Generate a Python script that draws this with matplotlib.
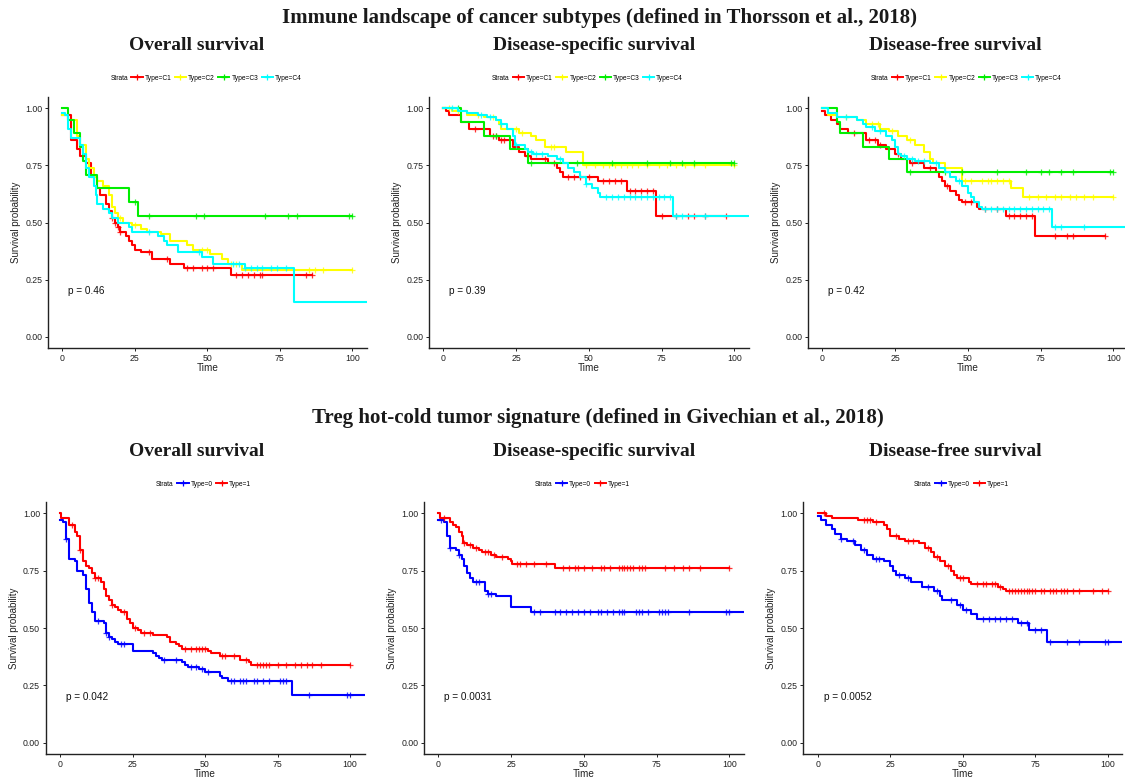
import numpy as np
import matplotlib
matplotlib.use("Agg")
import matplotlib.pyplot as plt
from matplotlib.lines import Line2D

plt.rcParams['font.family'] = ['Liberation Sans', 'DejaVu Sans']

# ---- data: step times, survival values, last follow-up time, censor times ----
# Immune landscape subtypes - overall survival
os_c1_t = [0, 3, 5, 6, 8, 10, 12, 13, 15, 16, 17, 18, 19, 20, 22, 23, 24, 25, 27, 31, 37, 42, 58]
os_c1_s = [0.97, 0.86, 0.82, 0.79, 0.76, 0.70, 0.65, 0.62, 0.58, 0.55, 0.52, 0.50, 0.48, 0.46, 0.44, 0.42, 0.40, 0.38, 0.37, 0.34, 0.32, 0.30, 0.27]
os_c1_end = 86
os_c1_cens = [17, 18, 19, 20, 30, 36, 43, 45, 48, 50, 52, 60, 62, 64, 66, 68, 69, 84, 86]

os_c2_t = [0, 2, 5, 6, 8, 9, 11, 12, 14, 16, 17, 18, 19, 21, 24, 27, 29, 34, 37, 43, 45, 51, 55, 57, 62]
os_c2_s = [0.97, 0.95, 0.88, 0.84, 0.78, 0.74, 0.70, 0.68, 0.66, 0.62, 0.57, 0.54, 0.52, 0.50, 0.49, 0.47, 0.46, 0.45, 0.42, 0.40, 0.38, 0.36, 0.34, 0.32, 0.29]
os_c2_end = 100
os_c2_cens = [20, 25, 48, 50, 58, 60, 85, 87, 90, 100]

os_c3_t = [0, 2, 4, 6, 7, 8, 12, 23, 26]
os_c3_s = [1.0, 0.95, 0.89, 0.83, 0.77, 0.71, 0.65, 0.59, 0.53]
os_c3_end = 100
os_c3_cens = [25, 30, 46, 49, 70, 78, 81, 99, 100]

os_c4_t = [0, 1, 2, 3, 6, 7, 8, 9, 11, 11.5, 12, 14, 16, 17, 19, 23, 24, 33, 35, 36, 40, 48, 52, 63, 80]
os_c4_s = [0.98, 0.97, 0.91, 0.87, 0.84, 0.80, 0.74, 0.70, 0.66, 0.62, 0.58, 0.56, 0.54, 0.52, 0.50, 0.48, 0.46, 0.44, 0.42, 0.40, 0.37, 0.35, 0.32, 0.30, 0.15]
os_c4_end = 110
os_c4_cens = [30, 47, 59, 61, 63, 65, 67, 69, 72, 74, 77]

# Immune landscape subtypes - disease-specific survival
dss_c1_t = [0, 1, 2, 6, 9, 16, 19, 24, 26, 28, 30, 36, 39, 40, 41, 53, 63, 73]
dss_c1_s = [1.0, 0.99, 0.97, 0.94, 0.91, 0.88, 0.86, 0.83, 0.81, 0.79, 0.78, 0.76, 0.74, 0.72, 0.70, 0.68, 0.64, 0.53]
dss_c1_end = 97
dss_c1_cens = [11, 17, 18, 20, 21, 29, 35, 38, 43, 45, 47, 50, 55, 57, 59, 61, 64, 66, 68, 70, 72, 75, 80, 84, 86, 90, 97]

dss_c2_t = [0, 3, 8, 14, 18, 19, 20, 26, 30, 32, 35, 42, 48]
dss_c2_s = [1.0, 0.99, 0.97, 0.96, 0.95, 0.93, 0.91, 0.89, 0.88, 0.86, 0.83, 0.81, 0.75]
dss_c2_end = 100
dss_c2_cens = [2, 5, 12, 17, 25, 27, 37, 38, 49, 52, 55, 57, 59, 61, 63, 65, 67, 70, 74, 77, 80, 83, 86, 90, 100]

dss_c3_t = [0, 6, 14, 23, 29]
dss_c3_s = [1.0, 0.94, 0.88, 0.82, 0.76]
dss_c3_end = 100
dss_c3_cens = [5, 18, 30, 46, 58, 70, 78, 82, 86, 99, 100]

dss_c4_t = [0, 5, 8, 12, 15, 18, 20, 22, 24, 24.5, 28, 29, 31, 36, 39, 41, 43, 45, 47, 49, 51, 53, 54, 79]
dss_c4_s = [1.0, 0.99, 0.98, 0.97, 0.96, 0.95, 0.93, 0.91, 0.88, 0.84, 0.82, 0.81, 0.80, 0.79, 0.78, 0.76, 0.74, 0.72, 0.70, 0.67, 0.65, 0.63, 0.61, 0.53]
dss_c4_end = 110
dss_c4_cens = [3, 13, 16, 20, 25, 30, 32, 34, 40, 49, 56, 58, 60, 62, 64, 66, 68, 70, 72, 74, 76, 78, 80, 82, 90]

# Immune landscape subtypes - disease-free survival
dfs_c1_t = [0, 1, 3, 5, 6, 9, 15, 19, 22, 25, 27, 30, 35, 39, 40, 41, 42, 44, 46, 47, 48, 53, 54, 63, 73]
dfs_c1_s = [0.99, 0.97, 0.95, 0.93, 0.91, 0.89, 0.86, 0.84, 0.82, 0.80, 0.78, 0.76, 0.74, 0.72, 0.70, 0.68, 0.66, 0.64, 0.62, 0.60, 0.59, 0.57, 0.56, 0.53, 0.44]
dfs_c1_end = 97
dfs_c1_cens = [11, 16, 18, 20, 26, 31, 37, 43, 49, 51, 56, 60, 64, 66, 68, 70, 72, 80, 84, 86, 97]

dfs_c2_t = [0, 2, 5, 12, 15, 20, 23, 26, 29, 32, 35, 37, 38, 42, 48, 65, 69]
dfs_c2_s = [1.0, 0.97, 0.96, 0.95, 0.93, 0.91, 0.90, 0.88, 0.86, 0.84, 0.81, 0.78, 0.76, 0.74, 0.68, 0.65, 0.61]
dfs_c2_end = 100
dfs_c2_cens = [8, 17, 19, 24, 30, 49, 51, 55, 57, 58, 60, 62, 64, 71, 74, 77, 80, 82, 85, 87, 90, 93, 100]

dfs_c3_t = [0, 5, 6, 14, 23, 29]
dfs_c3_s = [1.0, 0.94, 0.89, 0.83, 0.78, 0.72]
dfs_c3_end = 100
dfs_c3_cens = [30, 42, 48, 60, 70, 75, 78, 82, 86, 99, 100]

dfs_c4_t = [0, 2, 5, 12, 14, 15, 18, 22, 24, 25, 26, 27, 29, 32, 37, 40, 42, 44, 46, 48, 50, 51, 52, 54, 55, 79]
dfs_c4_s = [1.0, 0.98, 0.96, 0.95, 0.93, 0.92, 0.90, 0.88, 0.86, 0.83, 0.80, 0.79, 0.78, 0.77, 0.76, 0.74, 0.72, 0.70, 0.68, 0.66, 0.63, 0.61, 0.59, 0.57, 0.56, 0.48]
dfs_c4_end = 110
dfs_c4_cens = [8, 17, 20, 28, 31, 33, 35, 39, 47, 56, 58, 60, 62, 64, 66, 68, 70, 72, 74, 76, 78, 80, 82, 90]

# Treg hot-cold signature - overall survival
tos_0_t = [0, 1, 2, 3, 5, 6, 8, 9, 10, 11, 12, 15, 16, 17, 18, 19, 20, 25, 32, 33, 34, 35, 42, 43, 44, 48, 50, 55, 56, 58, 80]
tos_0_s = [0.97, 0.96, 0.89, 0.80, 0.79, 0.75, 0.73, 0.67, 0.61, 0.57, 0.53, 0.52, 0.48, 0.46, 0.45, 0.44, 0.43, 0.40, 0.39, 0.38, 0.37, 0.36, 0.35, 0.34, 0.33, 0.32, 0.31, 0.29, 0.28, 0.27, 0.21]
tos_0_end = 110
tos_0_cens = [2, 13, 16, 17, 21, 22, 36, 40, 45, 47, 49, 51, 59, 60, 62, 63, 64, 67, 68, 70, 72, 76, 77, 78, 86, 99, 100]

tos_1_t = [0, 0.5, 3, 5, 6, 7, 8, 9, 10, 11, 12, 14, 15, 16, 17, 18, 19, 20, 21, 23, 24, 25, 27, 28, 32, 37, 38, 40, 41, 42, 51, 52, 55, 62, 65, 66]
tos_1_s = [1.0, 0.98, 0.95, 0.92, 0.90, 0.84, 0.79, 0.77, 0.76, 0.74, 0.72, 0.70, 0.67, 0.64, 0.62, 0.60, 0.59, 0.58, 0.57, 0.54, 0.52, 0.50, 0.49, 0.48, 0.47, 0.46, 0.44, 0.43, 0.42, 0.41, 0.40, 0.39, 0.38, 0.36, 0.35, 0.34]
tos_1_end = 100
tos_1_cens = [4, 7, 12, 13, 18, 22, 26, 29, 31, 43, 45, 47, 48, 49, 50, 56, 57, 60, 64, 68, 69, 70, 71, 72, 75, 78, 81, 83, 85, 87, 90, 100]

# Treg hot-cold signature - disease-specific survival
tdss_0_t = [0, 2, 3, 4, 6, 7, 8, 9, 10, 11, 12, 16, 17, 20, 25, 32]
tdss_0_s = [0.97, 0.96, 0.90, 0.85, 0.84, 0.82, 0.80, 0.77, 0.74, 0.72, 0.70, 0.66, 0.65, 0.64, 0.59, 0.57]
tdss_0_end = 110
tdss_0_cens = [1, 4, 7, 13, 14, 17, 18, 33, 35, 40, 42, 44, 46, 48, 50, 52, 55, 56, 58, 60, 62, 63, 64, 68, 69, 70, 72, 76, 77, 78, 79, 86, 99, 100]

tdss_1_t = [0, 0.5, 4, 5, 6, 7, 8, 8.5, 10, 12, 14, 15, 18, 20, 24, 25, 25.5, 40]
tdss_1_s = [1.0, 0.98, 0.96, 0.95, 0.94, 0.92, 0.90, 0.87, 0.86, 0.85, 0.84, 0.83, 0.82, 0.81, 0.80, 0.79, 0.78, 0.76]
tdss_1_end = 100
tdss_1_cens = [2, 9, 11, 13, 16, 17, 19, 22, 27, 28, 30, 33, 37, 43, 45, 47, 48, 50, 53, 56, 57, 59, 62, 63, 64, 65, 66, 67, 69, 70, 71, 78, 81, 84, 86, 90, 100]

# Treg hot-cold signature - disease-free survival
tdfs_0_t = [0, 1, 3, 5, 6, 8, 10, 13, 15, 17, 19, 23, 25, 26, 27, 30, 32, 36, 40, 42, 43, 48, 50, 53, 55, 69, 73, 79]
tdfs_0_s = [0.99, 0.97, 0.95, 0.93, 0.91, 0.89, 0.88, 0.86, 0.84, 0.82, 0.80, 0.79, 0.77, 0.75, 0.73, 0.72, 0.70, 0.68, 0.66, 0.64, 0.62, 0.60, 0.58, 0.56, 0.54, 0.52, 0.49, 0.44]
tdfs_0_end = 110
tdfs_0_cens = [8, 12, 16, 20, 21, 28, 31, 38, 41, 46, 49, 51, 57, 59, 61, 63, 65, 67, 70, 72, 75, 77, 80, 86, 90, 99, 100]

tdfs_1_t = [0, 3, 5, 14, 19, 23, 24, 25, 28, 30, 35, 37, 39, 40, 42, 44, 46, 47, 48, 52, 53, 62, 64, 65]
tdfs_1_s = [1.0, 0.99, 0.98, 0.97, 0.96, 0.95, 0.93, 0.90, 0.89, 0.88, 0.87, 0.85, 0.83, 0.81, 0.79, 0.77, 0.75, 0.73, 0.72, 0.70, 0.69, 0.68, 0.67, 0.66]
tdfs_1_end = 100
tdfs_1_cens = [2, 16, 17, 18, 20, 27, 31, 33, 38, 41, 45, 49, 50, 55, 57, 58, 60, 61, 63, 66, 67, 68, 69, 70, 71, 72, 73, 74, 75, 77, 78, 80, 81, 82, 84, 85, 86, 88, 90, 95, 98, 100]

subtype_labels = ['Type=C1', 'Type=C2', 'Type=C3', 'Type=C4']
subtype_colors = ['#FF0000', '#FFFF00', '#00EE00', '#00FFFF']
treg_labels = ['Type=0', 'Type=1']
treg_colors = ['#0000FF', '#FF0000']

panel_titles = ['Overall survival', 'Disease-specific survival', 'Disease-free survival']
pvals_top = ['p = 0.46', 'p = 0.39', 'p = 0.42']
pvals_bottom = ['p = 0.042', 'p = 0.0031', 'p = 0.0052']

W, H = 1125, 777


def px_axes(fig, x0, x1, y0, y1):
    # pixel box (from top-left) -> figure axes
    return fig.add_axes([x0 / W, 1 - y1 / H, (x1 - x0) / W, (y1 - y0) / H])


def km_curve(ax, t, s, end, cens, color):
    t = np.asarray(t, float)
    s = np.asarray(s, float)
    xs = np.append(t, end)
    ys = np.append(s, s[-1])
    ax.step(xs, ys, where='post', color=color, lw=1.5, clip_on=True)
    c = np.asarray(cens, float)
    idx = np.searchsorted(t, c, side='right') - 1
    ax.plot(c, s[idx], '+', color=color, ms=4.5, mew=0.9, alpha=0.8, clip_on=True)


def style_axes(ax, pval):
    ax.set_xlim(-5, 105)
    ax.set_ylim(-0.05, 1.05)
    ax.set_xticks([0, 25, 50, 75, 100])
    ax.set_yticks([0, 0.25, 0.5, 0.75, 1.0])
    ax.set_yticklabels(['0.00', '0.25', '0.50', '0.75', '1.00'])
    for side in ['top', 'right']:
        ax.spines[side].set_visible(False)
    for side in ['left', 'bottom']:
        ax.spines[side].set_linewidth(1.0)
        ax.spines[side].set_color('#222222')
    ax.tick_params(length=2.5, width=0.7, labelsize=6.3, colors='#222222', pad=1.5)
    ax.set_xlabel('Time', fontsize=7.2, labelpad=0, color='#222222')
    ax.set_ylabel('Survival probability', fontsize=7, labelpad=3, color='#222222')
    ax.text(2, 0.2, pval, fontsize=7.2, ha='left', va='center', color='#111111')


def strata_legend(ax, labels, colors, y):
    handles = [Line2D([], [], color='none')]
    for col in colors:
        handles.append(Line2D([], [], color=col, lw=1.4, marker='+', ms=4, mew=0.9))
    ax.legend(handles, ['Strata'] + labels, loc='center', bbox_to_anchor=(0.5 - 0.025, y),
              ncol=len(labels) + 1, frameon=False, fontsize=4.8, handlelength=1.7,
              handletextpad=0.3, columnspacing=0.5, borderaxespad=0)


fig = plt.figure(figsize=(W / 100, H / 100), dpi=100)

top_boxes = [(48, 366.7), (428.7, 748.9), (807.7, 1127.9)]
bottom_boxes = [(45.5, 364.5), (423.7, 743.8), (803.2, 1122.2)]
title_x = [197, 594, 955]

top_curves = [
    [(os_c1_t, os_c1_s, os_c1_end, os_c1_cens), (os_c2_t, os_c2_s, os_c2_end, os_c2_cens),
     (os_c3_t, os_c3_s, os_c3_end, os_c3_cens), (os_c4_t, os_c4_s, os_c4_end, os_c4_cens)],
    [(dss_c1_t, dss_c1_s, dss_c1_end, dss_c1_cens), (dss_c2_t, dss_c2_s, dss_c2_end, dss_c2_cens),
     (dss_c3_t, dss_c3_s, dss_c3_end, dss_c3_cens), (dss_c4_t, dss_c4_s, dss_c4_end, dss_c4_cens)],
    [(dfs_c1_t, dfs_c1_s, dfs_c1_end, dfs_c1_cens), (dfs_c2_t, dfs_c2_s, dfs_c2_end, dfs_c2_cens),
     (dfs_c3_t, dfs_c3_s, dfs_c3_end, dfs_c3_cens), (dfs_c4_t, dfs_c4_s, dfs_c4_end, dfs_c4_cens)],
]
bottom_curves = [
    [(tos_0_t, tos_0_s, tos_0_end, tos_0_cens), (tos_1_t, tos_1_s, tos_1_end, tos_1_cens)],
    [(tdss_0_t, tdss_0_s, tdss_0_end, tdss_0_cens), (tdss_1_t, tdss_1_s, tdss_1_end, tdss_1_cens)],
    [(tdfs_0_t, tdfs_0_s, tdfs_0_end, tdfs_0_cens), (tdfs_1_t, tdfs_1_s, tdfs_1_end, tdfs_1_cens)],
]

for i in range(3):
    ax = px_axes(fig, top_boxes[i][0], top_boxes[i][1], 96.9, 348.1)
    for (t, s, end, cens), col in zip(top_curves[i], subtype_colors):
        km_curve(ax, t, s, end, cens, col)
    style_axes(ax, pvals_top[i])
    strata_legend(ax, subtype_labels, subtype_colors, 1.0 + (96.9 - 78) / 251.2)
    fig.text(title_x[i] / W, 1 - 46 / H, panel_titles[i], family='Liberation Serif',
             fontweight='bold', fontsize=14, ha='center', va='center', color='#1a1a1a')

    ax = px_axes(fig, bottom_boxes[i][0], bottom_boxes[i][1], 501.8, 754.2)
    for (t, s, end, cens), col in zip(bottom_curves[i], treg_colors):
        km_curve(ax, t, s, end, cens, col)
    style_axes(ax, pvals_bottom[i])
    strata_legend(ax, treg_labels, treg_colors, 1.0 + (501.8 - 484) / 252.4)
    fig.text(title_x[i] / W, 1 - 451 / H, panel_titles[i], family='Liberation Serif',
             fontweight='bold', fontsize=14, ha='center', va='center', color='#1a1a1a')

fig.text(600 / W, 1 - 18 / H, 'Immune landscape of cancer subtypes (defined in Thorsson et al., 2018)',
         family='Liberation Serif', fontweight='bold', fontsize=15, ha='center', va='center', color='#1a1a1a')
fig.text(598 / W, 1 - 418 / H, 'Treg hot-cold tumor signature (defined in Givechian et al., 2018)',
         family='Liberation Serif', fontweight='bold', fontsize=15, ha='center', va='center', color='#1a1a1a')

fig.savefig('out.png', dpi=100)
